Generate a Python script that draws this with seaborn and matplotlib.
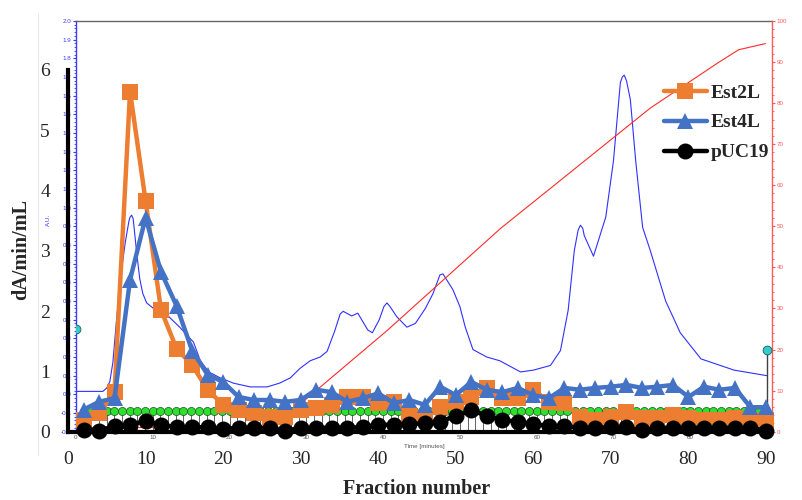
import matplotlib
matplotlib.use("Agg")
import matplotlib.pyplot as plt
import seaborn as sns
import pandas as pd
from matplotlib.lines import Line2D
from matplotlib.ticker import MultipleLocator, FormatStrFormatter

# ---------------- data ----------------
fractions = list(range(2, 91, 2))
est2l = [0.20, 0.31, 0.66, 5.64, 3.83, 2.02, 1.38, 1.11, 0.70, 0.45,
         0.36, 0.31, 0.25, 0.25, 0.36, 0.40, 0.45, 0.58, 0.58, 0.48,
         0.50, 0.28, 0.25, 0.41, 0.50, 0.58, 0.73, 0.56, 0.56, 0.70,
         0.50, 0.48, 0.25, 0.20, 0.25, 0.33, 0.23, 0.23, 0.28, 0.23,
         0.20, 0.20, 0.23, 0.20, 0.20]
est4l = [0.37, 0.50, 0.56, 2.52, 3.55, 2.65, 2.09, 1.35, 0.95, 0.83,
         0.58, 0.53, 0.53, 0.50, 0.53, 0.70, 0.66, 0.50, 0.56, 0.64,
         0.48, 0.53, 0.45, 0.75, 0.61, 0.83, 0.70, 0.66, 0.73, 0.61,
         0.56, 0.73, 0.70, 0.73, 0.75, 0.78, 0.73, 0.75, 0.78, 0.58,
         0.75, 0.70, 0.73, 0.41, 0.41]
puc19 = [0.03, 0.02, 0.10, 0.12, 0.18, 0.12, 0.08, 0.08, 0.08, 0.05,
         0.07, 0.07, 0.07, 0.02, 0.07, 0.07, 0.07, 0.07, 0.08, 0.12,
         0.12, 0.13, 0.15, 0.17, 0.27, 0.36, 0.27, 0.20, 0.17, 0.13,
         0.10, 0.10, 0.07, 0.07, 0.08, 0.08, 0.03, 0.07, 0.07, 0.07,
         0.07, 0.07, 0.07, 0.07, 0.02]
series_names = ["Est2L", "Est4L", "pUC19"]
series_colors = ["#ED7D31", "#4472C4", "#000000"]
series_markers = ["s", "^", "o"]

# chromatogram (absorbance, A.U.) vs time
chrom_time = [0, 3.5, 4.0, 4.4, 4.8, 5.3, 5.95, 6.4, 6.9, 7.05, 7.25, 7.45,
              7.6, 7.9, 8.3, 8.7, 9.2, 10.1, 10.9, 12.0, 13.5, 15.3, 16.2,
              17.3, 18.8, 20.5, 22.7, 24.9, 26.5, 27.9, 29.2, 30.5, 31.8,
              32.7, 33.7, 34.4, 34.8, 35.9, 36.7, 38.0, 38.6, 39.5, 40.1,
              40.5, 40.9, 41.8, 43.1, 44.2, 45.5, 46.5, 47.4, 47.8, 49.1,
              50.0, 50.7, 51.7, 53.5, 55.2, 57.9, 59.6, 61.8, 63.1, 64.1,
              64.9, 65.4, 65.7, 66.0, 66.2, 67.4, 69.0, 70.0, 70.9, 71.15,
              71.4, 71.7, 72.2, 72.9, 73.8, 74.8, 76.8, 78.7, 81.4, 85.7,
              90.0]
chrom_au = [0.016, 0.016, 0.034, 0.067, 0.17, 0.41, 0.67, 0.81, 0.93, 0.95,
            0.96, 0.94, 0.88, 0.76, 0.62, 0.54, 0.49, 0.46, 0.45, 0.42,
            0.36, 0.28, 0.18, 0.12, 0.088, 0.06, 0.04, 0.04, 0.06, 0.088,
            0.14, 0.18, 0.20, 0.23, 0.34, 0.43, 0.445, 0.42, 0.435, 0.345,
            0.33, 0.40, 0.47, 0.49, 0.47, 0.415, 0.36, 0.38, 0.46, 0.54,
            0.64, 0.645, 0.56, 0.47, 0.36, 0.24, 0.20, 0.18, 0.12, 0.13,
            0.155, 0.235, 0.45, 0.77, 0.88, 0.906, 0.89, 0.85, 0.74, 0.95,
            1.25, 1.67, 1.70, 1.71, 1.68, 1.58, 1.25, 0.895, 0.77, 0.50,
            0.33, 0.19, 0.13, 0.10]
# gradient (%B) vs time
grad_time = [0, 25.5, 27.5, 30.0, 40.5, 55.3, 74.8, 83.6, 86.3, 89.8]
grad_pct = [1.0, 1.0, 3.0, 8.0, 24.6, 49.5, 78.8, 89.8, 93.0, 94.5]
# fraction collector marks
frac_marks = list(range(1, 90))
frac_level = -0.09
event_time = [0, 90]
event_pct = [25, 20]

main_xticks = list(range(0, 91, 10))
main_yticks = list(range(0, 7))

# ---------------- style ----------------
sns.set_style("white")
plt.rcParams['font.family'] = ['Liberation Serif', 'DejaVu Serif']

W, H = 803, 500
fig = plt.figure(figsize=(W / 100, H / 100), dpi=100)


def rect(l, t, r, b):
    return [l / W, 1 - b / H, (r - l) / W, (b - t) / H]


small = dict(family=['Liberation Sans', 'DejaVu Sans'], size=4.5)

# ---------- chromatogram layer ----------
ax_c = fig.add_axes(rect(76, 21, 772, 431.7))
ax_c.set_xlim(0, 90 * (772 - 76) / (767 - 76))
ax_c.set_ylim(-0.2, 2.0)
ax_r = ax_c.twinx()
ax_r.set_ylim(0, 100)

sns.lineplot(x=chrom_time, y=chrom_au, ax=ax_c, color="#3030ff", lw=0.8)
ax_c.vlines(frac_marks, -0.2, frac_level, color="#606060", lw=0.7, zorder=2)
sns.scatterplot(x=frac_marks, y=[frac_level] * len(frac_marks), ax=ax_c,
                color="#2ee02e", edgecolor="#1d4d1d", s=34, linewidth=0.5,
                zorder=3)
sns.lineplot(x=grad_time, y=grad_pct, ax=ax_r, color="#ff2a2a", lw=0.8)
ax_r.vlines([event_time[1]], 0, event_pct[1], color="#404040", lw=1.0)
sns.scatterplot(x=event_time, y=event_pct, ax=ax_r, color="#33cccc",
                edgecolor="#1f5f5f", s=40, linewidth=0.6, zorder=4)

for sp in ["bottom", "right"]:
    ax_c.spines[sp].set_visible(False)
ax_c.spines["left"].set_color("#3a3aff")
ax_c.spines["left"].set_linewidth(1.0)
ax_c.spines["top"].set_color("#666666")
ax_c.spines["top"].set_linewidth(1.0)
for sp in ["bottom", "left", "top"]:
    ax_r.spines[sp].set_visible(False)
ax_r.spines["right"].set_color("#ff5a5a")
ax_r.spines["right"].set_linewidth(1.0)

ax_c.yaxis.set_major_locator(MultipleLocator(0.1))
ax_c.yaxis.set_minor_locator(MultipleLocator(0.02))
ax_c.yaxis.set_major_formatter(FormatStrFormatter('%.1f'))
ax_c.tick_params(axis='y', which='major', colors="#3a3aff", length=2.5,
                 width=0.8, pad=1, direction='out')
ax_c.tick_params(axis='y', which='minor', colors="#3a3aff", length=1.2,
                 width=0.6, left=True)
ax_c.set_xticks(main_xticks)
ax_c.tick_params(axis='x', colors="#555555", length=0, pad=2.5)
for lab in ax_c.get_xticklabels() + ax_c.get_yticklabels():
    lab.set_fontfamily(small['family'])
    lab.set_fontsize(small['size'])
ax_c.set_xlabel("Time [minutes]", color="#555555", labelpad=3, **small)
ax_c.set_ylabel("A.U.", color="#3a3aff", **small)
ax_c.yaxis.set_label_coords((51 - 76) / 696, (431.7 - 220) / 410.7)

ax_r.yaxis.set_major_locator(MultipleLocator(10))
ax_r.yaxis.set_minor_locator(MultipleLocator(2))
ax_r.tick_params(axis='y', which='major', colors="#ff5a5a", length=2.5,
                 width=0.8, pad=1)
ax_r.tick_params(axis='y', which='minor', colors="#ff5a5a", length=1.2,
                 width=0.6, right=True)
for lab in ax_r.get_yticklabels():
    lab.set_fontfamily(small['family'])
    lab.set_fontsize(small['size'])
ax_r.set_ylabel("")

# ---------- main activity layer ----------
ax_m = fig.add_axes(rect(68, 69.8, 766, 432))
ax_m.patch.set_alpha(0)
df = pd.DataFrame({
    "Fraction": fractions * 3,
    "value": est2l + est4l + puc19,
    "series": [series_names[0]] * len(fractions)
    + [series_names[1]] * len(fractions)
    + [series_names[2]] * len(fractions),
})
sns.lineplot(data=df, x="Fraction", y="value", hue="series", style="series",
             hue_order=series_names, style_order=series_names,
             palette=dict(zip(series_names, series_colors)),
             markers=dict(zip(series_names, series_markers)), dashes=False,
             lw=3.2, markersize=11.5, markeredgewidth=0, legend=False,
             ax=ax_m)
for ln in ax_m.lines:
    ln.set_clip_on(False)
ax_m.set_xlim(0, 90)
ax_m.set_ylim(0, 6)
ax_m.set_xticks(main_xticks)
ax_m.set_yticks(main_yticks)
ax_m.tick_params(axis='both', length=0, labelsize=14)
ax_m.tick_params(axis='x', pad=13.5)
ax_m.tick_params(axis='y', pad=13)
for sp in ["top", "right"]:
    ax_m.spines[sp].set_visible(False)
for sp in ["left", "bottom"]:
    ax_m.spines[sp].set_color("black")
    ax_m.spines[sp].set_linewidth(3)
ax_m.set_xlabel("Fraction number", fontsize=14.5, fontweight='bold')
ax_m.xaxis.set_label_coords(0.5, (432 - 479) / 362.2)
ax_m.set_ylabel("dA/min/mL", fontsize=14.5, fontweight='bold')
ax_m.yaxis.set_label_coords((31 - 68) / 698, (432 - 250) / 362.2)

handles = [Line2D([], [], color=c, marker=m, lw=3.2, markersize=11.5,
                  markeredgewidth=0)
           for c, m in zip(series_colors, series_markers)]
fig.legend(handles, series_names, loc='upper left',
           bbox_to_anchor=(664 / W, 1 - 84 / H), frameon=False,
           prop=dict(family=['Liberation Serif', 'DejaVu Serif'],
                     weight='bold', size=14),
           handlelength=2.2, handletextpad=0.2, labelspacing=0.63,
           borderpad=0, borderaxespad=0)

fig.add_artist(Line2D([38 / W, 38 / W], [1 - 13 / H, 1 - 455 / H],
                      color="#e8e8e8", lw=0.8))

fig.savefig("out.png", dpi=100)
